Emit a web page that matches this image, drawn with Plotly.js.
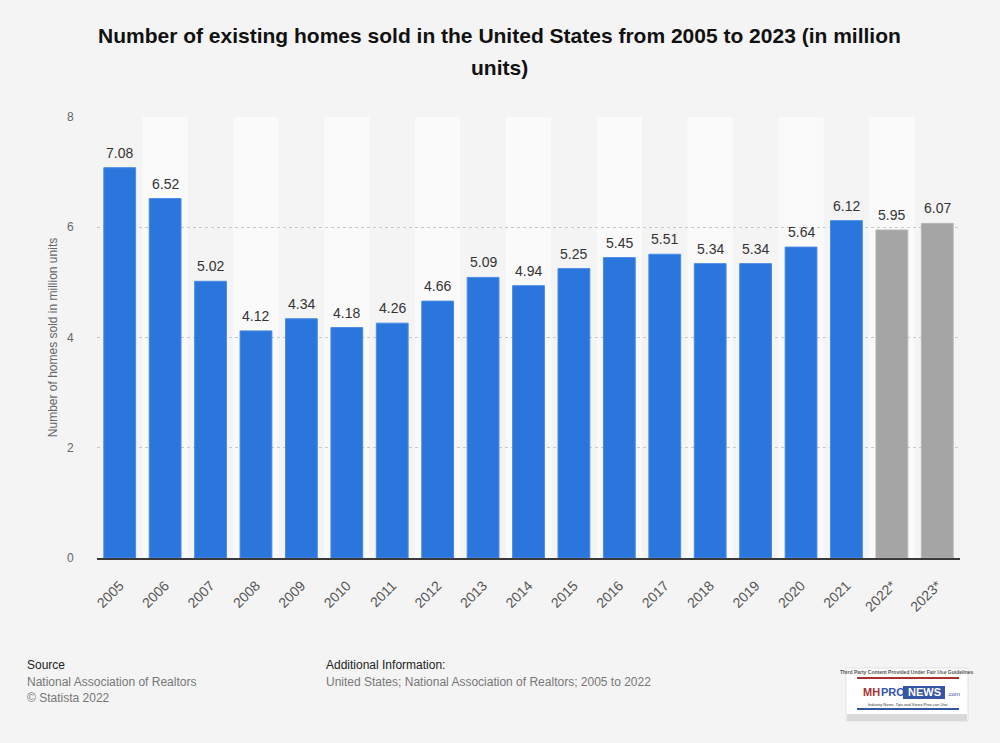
<!DOCTYPE html>
<html>
<head>
<meta charset="utf-8">
<script src="https://cdn.plot.ly/plotly-3.0.1.min.js"></script>
<style>
html,body{margin:0;padding:0;background:#f4f4f4;}
#chart{width:1000px;height:743px;}
</style>
</head>
<body>
<div id="chart"></div>
<script>
const years = ["2005","2006","2007","2008","2009","2010","2011","2012","2013","2014","2015","2016","2017","2018","2019","2020","2021","2022*","2023*"];
const homesSold = [7.08,6.52,5.02,4.12,4.34,4.18,4.26,4.66,5.09,4.94,5.25,5.45,5.51,5.34,5.34,5.64,6.12,5.95,6.07];
const isForecast = [false,false,false,false,false,false,false,false,false,false,false,false,false,false,false,false,false,true,true];
const yTicks = [0,2,4,6,8];
const titleLines = ["Number of existing homes sold in the United States from 2005 to 2023 (in million", "units)"];

const font = "Liberation Sans, Arial, sans-serif";
const barColors = isForecast.map(f => f ? "#a5a5a5" : "#2a76dd");
const lineColors = isForecast.map(f => f ? "#b4b4b4" : "#4a8ae4");

const trace = {
  type: "bar",
  x: years,
  y: homesSold,
  marker: {color: barColors, line: {color: lineColors, width: 1}},
  hoverinfo: "x+y"
};

const PL = 97, PR = 40, PT = 117, PB = 185, W = 1000, H = 743;
function px(x){ return (x - PL) / (W - PL - PR); }
function py(y){ return (H - PB - y) / (H - PT - PB); }

const shapes = [];
years.forEach((y, i) => {
  if (i % 2 === 1) {
    shapes.push({type: "rect", xref: "x", yref: "paper", x0: i - 0.5, x1: i + 0.5, y0: 0, y1: 1,
      fillcolor: "#fafafa", line: {width: 0}, layer: "below"});
  }
});

const annotations = [];
// bar value labels (x given as category index)
years.forEach((yr, i) => {
  annotations.push({x: i, y: homesSold[i], xref: "x", yref: "y", text: homesSold[i].toFixed(2),
    showarrow: false, yanchor: "bottom", yshift: 5,
    font: {family: font, size: 14, color: "#333333"}});
});
// title lines
titleLines.forEach((t, i) => {
  annotations.push({text: "<b>" + t + "</b>", xref: "paper", yref: "paper", x: px(499), y: py(35 + i * 33),
    xanchor: "center", yanchor: "middle", showarrow: false,
    font: {family: font, size: 21, color: "#111111"}});
});

const footer = [
  {t: "Source", x: 25, y: 665, c: "#222222"},
  {t: "National Association of Realtors", x: 25, y: 682, c: "#777777"},
  {t: "© Statista 2022", x: 25, y: 698, c: "#777777"},
  {t: "Additional Information:", x: 324, y: 665, c: "#222222"},
  {t: "United States; National Association of Realtors; 2005 to 2022", x: 324, y: 682, c: "#777777"}
];
footer.forEach(f => annotations.push({
  text: f.t, xref: "paper", yref: "paper", x: px(f.x), y: py(f.y),
  xanchor: "left", yanchor: "middle", showarrow: false,
  font: {family: font, size: 12, color: f.c}
}));

// logo approximation
shapes.push({type: "rect", xref: "paper", yref: "paper", x0: px(846), x1: px(968), y0: py(721), y1: py(668),
  fillcolor: "#ffffff", line: {color: "#e2e2e2", width: 1}, layer: "above"});
shapes.push({type: "rect", xref: "paper", yref: "paper", x0: px(847), x1: px(967), y0: py(721), y1: py(714),
  fillcolor: "#d9d9d9", line: {width: 0}, layer: "above"});
shapes.push({type: "line", xref: "paper", yref: "paper", x0: px(857), x1: px(959), y0: py(678), y1: py(678),
  line: {color: "#a83232", width: 2}});
shapes.push({type: "line", xref: "paper", yref: "paper", x0: px(857), x1: px(959), y0: py(709), y1: py(709),
  line: {color: "#3555a5", width: 2}});
shapes.push({type: "rect", xref: "paper", yref: "paper", x0: px(903), x1: px(945), y0: py(699), y1: py(686),
  fillcolor: "#3555a5", line: {width: 0}});
const logoTexts = [
  {t: "<b>Third Party Content Provided Under Fair Use Guidelines</b>", x: 907, y: 672, a: "center", s: 5, c: "#555555"},
  {t: "<b>MH</b>", x: 862, y: 692, a: "left", s: 11, c: "#a83232"},
  {t: "<b>PRO</b>", x: 880, y: 692, a: "left", s: 11, c: "#3555a5"},
  {t: "<b>NEWS</b>", x: 924, y: 692, a: "center", s: 11, c: "#ffffff"},
  {t: ".com", x: 946, y: 694, a: "left", s: 6, c: "#3555a5"},
  {t: "Industry News, Tips and Views Pros can Use", x: 908, y: 704, a: "center", s: 4, c: "#333333"}
];
logoTexts.forEach(l => annotations.push({text: l.t, xref: "paper", yref: "paper", x: px(l.x), y: py(l.y),
  xanchor: l.a, yanchor: "middle", showarrow: false, borderpad: 0,
  font: {family: font, size: l.s, color: l.c}}));

const layout = {
  width: W, height: H,
  paper_bgcolor: "#f4f4f4",
  plot_bgcolor: "#f4f4f4",
  margin: {l: PL, r: PR, t: PT, b: PB},
  bargap: 0.3,
  showlegend: false,
  xaxis: {
    type: "category",
    range: [-0.5, years.length - 0.5],
    autorange: false,
    tickangle: -45,
    tickfont: {family: font, size: 14, color: "#555555"},
    showgrid: false,
    showline: true, linecolor: "#3a3a3a", linewidth: 2,
    ticks: "outside", ticklen: 12, tickcolor: "rgba(0,0,0,0)",
    fixedrange: true
  },
  yaxis: {
    range: [0, 8],
    autorange: false,
    tickvals: yTicks,
    tickfont: {family: font, size: 12, color: "#666666"},
    showgrid: true, gridcolor: "#c8c8c8", griddash: "dot", gridwidth: 1,
    zeroline: false,
    ticks: "outside", ticklen: 20, tickcolor: "rgba(0,0,0,0)",
    title: {text: "Number of homes sold in million units", font: {family: font, size: 12, color: "#666666"}, standoff: 6},
    fixedrange: true
  },
  shapes: shapes,
  annotations: annotations
};

Plotly.newPlot("chart", [trace], layout, {displayModeBar: false, staticPlot: true});
</script>
</body>
</html>
